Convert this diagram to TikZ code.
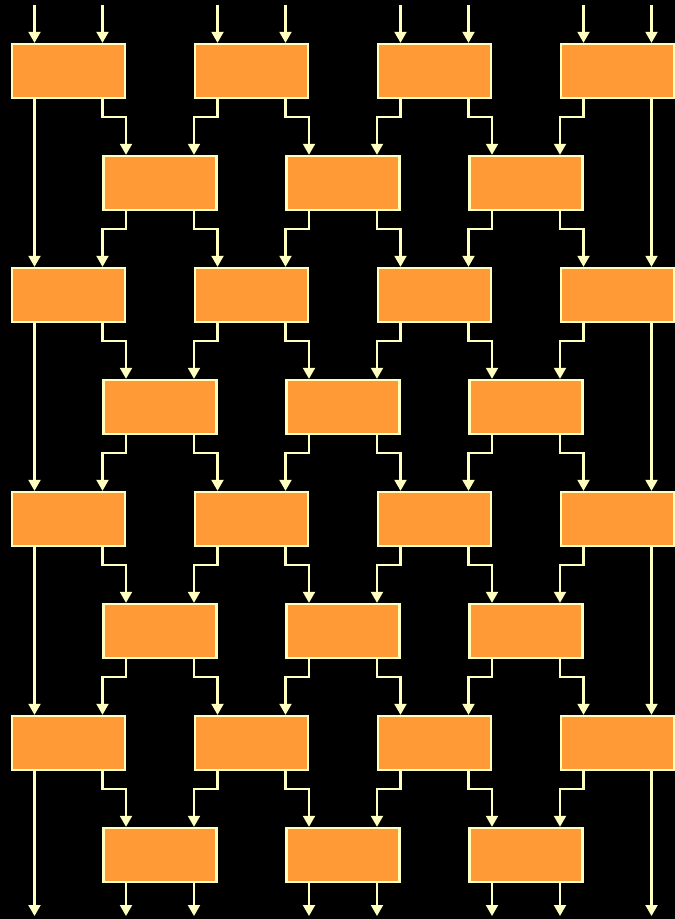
\documentclass[tikz,border=0pt]{standalone}
\usetikzlibrary{arrows.meta}
\definecolor{boxfill}{HTML}{FF9A36}
\definecolor{pale}{HTML}{FFFFC0}
\tikzset{
  box/.style={draw=pale, fill=boxfill, line width=2.4pt, minimum width=113pt, minimum height=54pt, inner sep=0pt},
  conn/.style={draw=pale, line width=2.1pt, -{Triangle[width=12pt,length=11pt]}},
}
\begin{document}
\begin{tikzpicture}[x=1pt,y=-1pt]
\useasboundingbox (0,0) rectangle (675,919);
\fill[black] (0,0) rectangle (675,919);
% boxes
\foreach \r in {0,...,3}{
  \foreach \c in {0,...,3}{
    \node[box] (A\r\c) at ({68.5+183*\c},{71+224*\r}) {};
  }
  \foreach \c in {0,...,2}{
    \node[box] (B\r\c) at ({160+183*\c},{183+224*\r}) {};
  }
}
% top inputs
\foreach \c in {0,...,3}{
  \coordinate (inL\c) at ({34.5+183*\c},5);
  \coordinate (inR\c) at ({102.5+183*\c},5);
  \draw[conn] (inL\c) -- ([xshift=-34pt]A0\c.north);
  \draw[conn] (inR\c) -- ([xshift=34pt]A0\c.north);
}
% A row -> B row
\foreach \r in {0,...,3}{
  \foreach \c [evaluate=\c as \p using int(\c-1)] in {1,...,3}{
    \draw[conn] ([xshift=-34pt]A\r\c.south) -- ++(0,18) -| ([xshift=34pt]B\r\p.north);
  }
  \foreach \c in {0,...,2}{
    \draw[conn] ([xshift=34pt]A\r\c.south) -- ++(0,18) -| ([xshift=-34pt]B\r\c.north);
  }
}
% B row -> next A row, and edge columns
\foreach \r [evaluate=\r as \n using int(\r+1)] in {0,...,2}{
  \foreach \c [evaluate=\c as \q using int(\c+1)] in {0,...,2}{
    \draw[conn] ([xshift=-34pt]B\r\c.south) -- ++(0,18) -| ([xshift=34pt]A\n\c.north);
    \draw[conn] ([xshift=34pt]B\r\c.south) -- ++(0,18) -| ([xshift=-34pt]A\n\q.north);
  }
  \draw[conn] ([xshift=-34pt]A\r0.south) -- ([xshift=-34pt]A\n0.north);
  \draw[conn] ([xshift=34pt]A\r3.south) -- ([xshift=34pt]A\n3.north);
}
% bottom outputs
\coordinate (outL) at (34.5,916);
\coordinate (outR) at (651.5,916);
\draw[conn] ([xshift=-34pt]A30.south) -- (outL);
\draw[conn] ([xshift=34pt]A33.south) -- (outR);
\foreach \c in {0,...,2}{
  \coordinate (oL\c) at ({126+183*\c},916);
  \coordinate (oR\c) at ({194+183*\c},916);
  \draw[conn] ([xshift=-34pt]B3\c.south) -- (oL\c);
  \draw[conn] ([xshift=34pt]B3\c.south) -- (oR\c);
}
\end{tikzpicture}
\end{document}
